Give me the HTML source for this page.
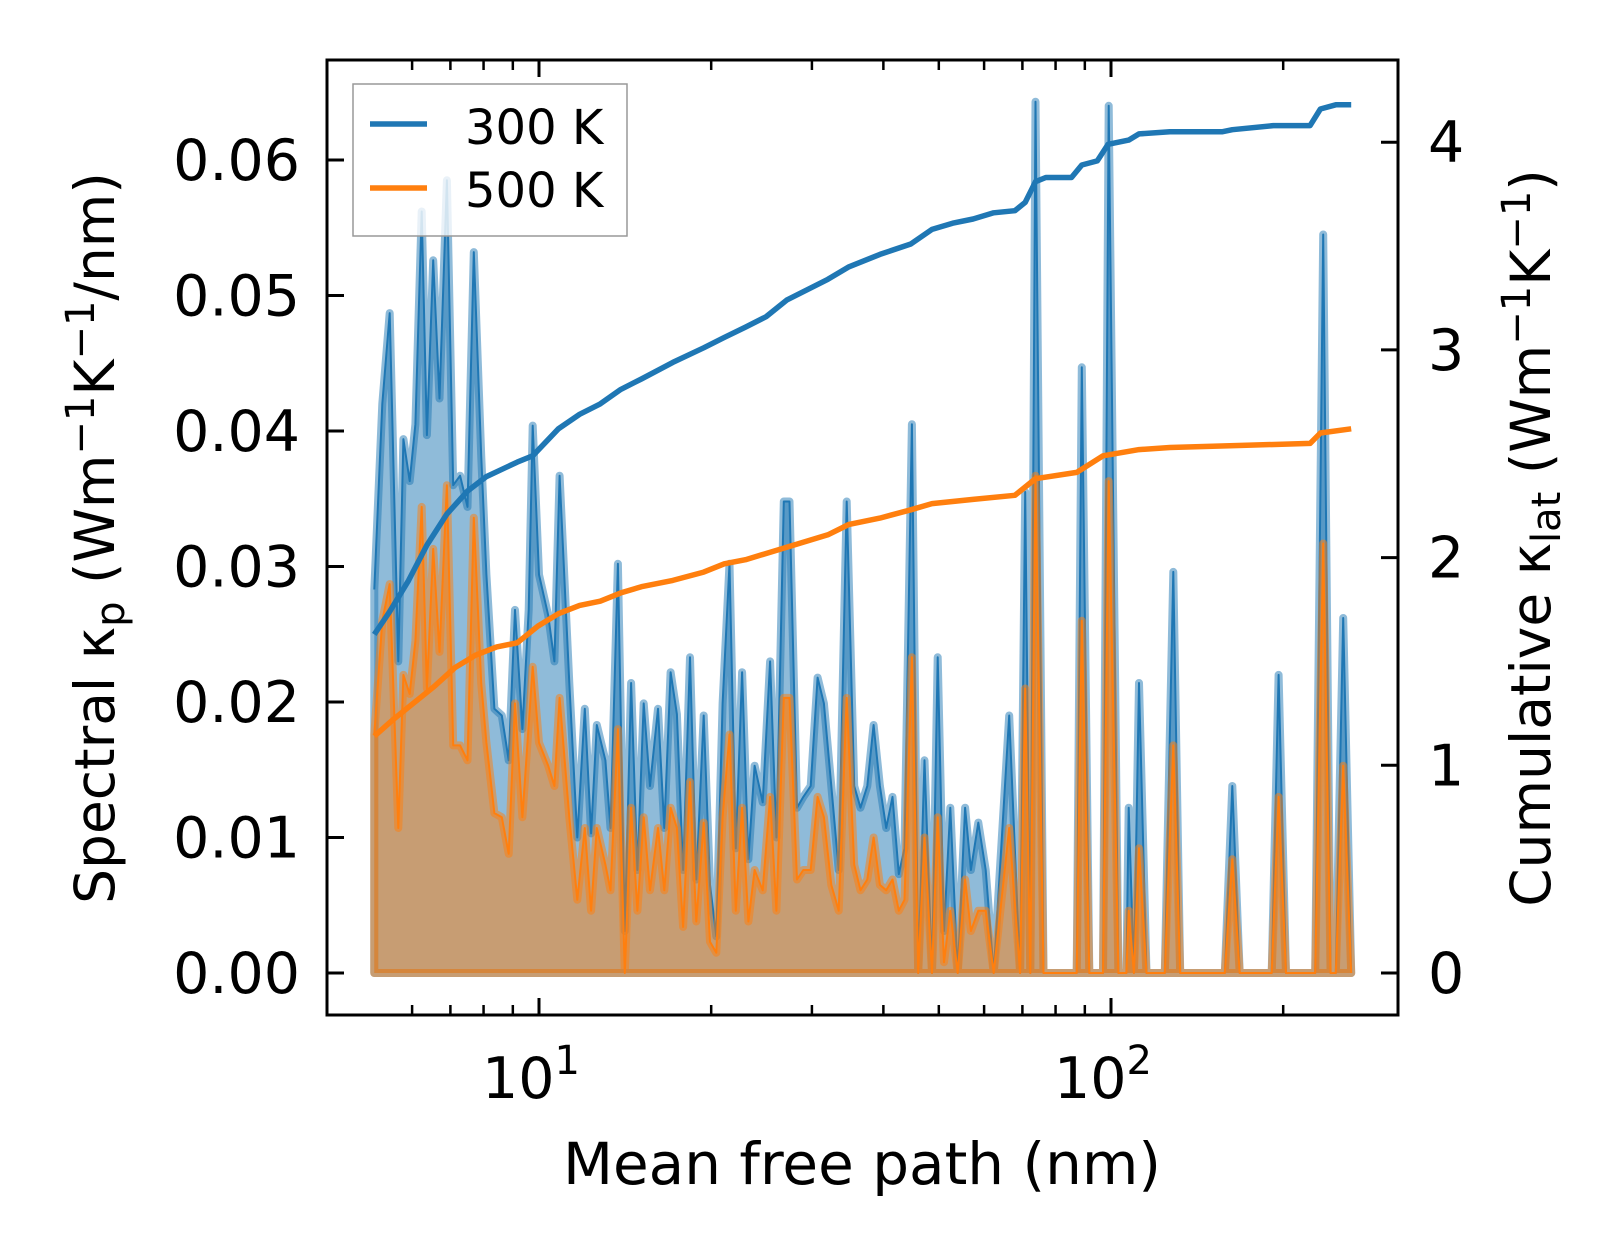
<!DOCTYPE html>
<html><head><meta charset="utf-8">
<style>
html,body{margin:0;padding:0;background:#fff;}
body{position:relative;}
svg{display:block;font-family:"DejaVu Sans","Liberation Sans",sans-serif;}
</style></head>
<body>
<svg id="chart" width="1623" height="1254" viewBox="0 0 1623 1254" xmlns="http://www.w3.org/2000/svg">
<defs><clipPath id="clip"><rect x="327" y="60" width="1071" height="955"/></clipPath></defs>
<g id="plot" clip-path="url(#clip)"></g>
<g id="axes"></g>
</svg>
<script>
// log10 of mean free path (nm) for spectral points
const logMfp = [0.712,0.726,0.739,0.754,0.763,0.774,0.784,0.795,0.804,0.815,0.826,0.839,0.850,0.862,0.875,0.886,0.899,0.908,0.922,0.935,0.947,0.958,0.971,0.982,0.989,1.000,1.016,1.027,1.036,1.053,1.067,1.080,1.091,1.101,1.116,1.125,1.138,1.150,1.161,1.172,1.183,1.194,1.208,1.219,1.230,1.241,1.252,1.264,1.275,1.288,1.299,1.310,1.321,1.333,1.344,1.355,1.366,1.377,1.391,1.404,1.415,1.428,1.438,1.451,1.462,1.475,1.487,1.498,1.511,1.524,1.538,1.551,1.562,1.574,1.585,1.596,1.607,1.618,1.629,1.639,1.652,1.663,1.674,1.687,1.697,1.708,1.719,1.732,1.745,1.755,1.768,1.781,1.795,1.822,1.841,1.850,1.859,1.868,1.882,1.940,1.949,1.962,1.986,1.996,2.013,2.027,2.031,2.040,2.049,2.062,2.094,2.109,2.121,2.199,2.212,2.225,2.281,2.293,2.306,2.357,2.371,2.384,2.393,2.406,2.420];
const k300 = [0.0283,0.042,0.0487,0.023,0.0394,0.0363,0.0405,0.0562,0.0397,0.0526,0.0424,0.0585,0.036,0.0367,0.0344,0.0532,0.0382,0.0294,0.0195,0.019,0.0157,0.0268,0.018,0.0268,0.0404,0.0294,0.0264,0.023,0.0367,0.0214,0.010,0.0195,0.0103,0.0183,0.0157,0.0107,0.0302,0.0031,0.0214,0.0076,0.0199,0.0138,0.0195,0.0107,0.0222,0.0191,0.0076,0.0233,0.0069,0.019,0.0065,0.0027,0.0199,0.0302,0.0092,0.0222,0.0084,0.0153,0.0126,0.023,0.010,0.0348,0.0348,0.0122,0.013,0.0138,0.0218,0.0199,0.0138,0.0076,0.0348,0.0138,0.0122,0.0138,0.0183,0.0138,0.0107,0.013,0.0073,0.0092,0.0405,0,0.0157,0,0.0233,0.0031,0.0122,0,0.0122,0.0076,0.0111,0.0076,0,0.019,0,0.0355,0,0.0643,0,0,0.0447,0,0,0.064,0,0,0.0122,0,0.0214,0,0,0.0296,0,0,0.0138,0,0,0.022,0,0,0.0545,0,0,0.0262,0];
const k500 = [0.0176,0.026,0.0287,0.0107,0.022,0.0206,0.0245,0.0344,0.021,0.0313,0.0237,0.036,0.0168,0.0168,0.0157,0.0336,0.0214,0.017,0.0118,0.0115,0.0088,0.0199,0.0115,0.0183,0.0226,0.017,0.0153,0.0138,0.0203,0.0115,0.0054,0.0107,0.0046,0.0107,0.008,0.0061,0.018,0.0,0.0122,0.0046,0.0115,0.0061,0.0107,0.0061,0.0122,0.0107,0.0034,0.0141,0.0038,0.0111,0.0023,0.0015,0.0115,0.0176,0.0046,0.0122,0.0038,0.0076,0.0061,0.013,0.0046,0.0203,0.0203,0.0069,0.0076,0.0076,0.013,0.0115,0.0065,0.0046,0.0203,0.008,0.0061,0.0069,0.010,0.0065,0.0061,0.0069,0.0046,0.0054,0.0233,0,0.010,0,0.0115,0.0008,0.0046,0,0.0069,0.0031,0.0046,0.0046,0,0.0107,0,0.021,0,0.0367,0,0,0.026,0,0,0.0363,0,0,0.0046,0,0.0092,0,0,0.0168,0,0,0.0084,0,0,0.013,0,0,0.0317,0,0,0.0153,0];
const cumLog300 = [0.712,0.739,0.772,0.804,0.839,0.875,0.908,0.962,0.989,1.034,1.071,1.107,1.143,1.179,1.234,1.288,1.324,1.361,1.397,1.433,1.469,1.505,1.542,1.596,1.650,1.687,1.723,1.759,1.795,1.832,1.850,1.868,1.886,1.931,1.949,1.976,1.995,2.031,2.049,2.103,2.194,2.212,2.284,2.348,2.366,2.393,2.420];
const cum300 = [1.63,1.74,1.89,2.06,2.21,2.32,2.39,2.46,2.49,2.62,2.69,2.74,2.81,2.86,2.94,3.01,3.06,3.11,3.16,3.24,3.29,3.34,3.40,3.46,3.51,3.58,3.61,3.63,3.66,3.67,3.71,3.81,3.83,3.83,3.89,3.91,3.99,4.01,4.04,4.05,4.05,4.06,4.08,4.08,4.16,4.18,4.18];
const cumLog500 = [0.712,0.745,0.781,0.817,0.853,0.889,0.926,0.962,0.998,1.034,1.071,1.107,1.143,1.179,1.234,1.288,1.324,1.361,1.433,1.505,1.542,1.596,1.650,1.687,1.759,1.832,1.868,1.940,1.986,2.049,2.103,2.230,2.348,2.366,2.420];
const cum500 = [1.14,1.22,1.30,1.38,1.47,1.53,1.57,1.59,1.67,1.73,1.77,1.79,1.83,1.86,1.89,1.93,1.97,1.99,2.05,2.11,2.16,2.19,2.23,2.26,2.28,2.30,2.38,2.41,2.49,2.52,2.53,2.54,2.55,2.60,2.62];
const leftTicks = [0,0.01,0.02,0.03,0.04,0.05,0.06];
const leftTickLabels = ["0.00","0.01","0.02","0.03","0.04","0.05","0.06"];
const rightTicks = [0,1,2,3,4];
const xMajor = [1,2];
const xMinor = [6,7,8,9,20,30,40,50,60,70,80,90,200];

const NS="http://www.w3.org/2000/svg";
const X0=327,X1=1398,Y0=60,Y1=1015;
const xs = l => 539 + (l-1)*572;
const yL = v => 973 - v*13550;
const yR = v => 973 - v*207.7;
const plot=document.getElementById('plot'), axes=document.getElementById('axes');
function mk(tag,attrs,parent){const e=document.createElementNS(NS,tag);for(const k in attrs)e.setAttribute(k,attrs[k]);parent.appendChild(e);return e;}

function spectral(vals,color,name){
  let pts=logMfp.map((l,i)=>xs(l).toFixed(1)+','+yL(vals[i]).toFixed(1));
  const area=mk('polygon',{points:xs(logMfp[0])+','+yL(0)+' '+pts.join(' ')+' '+xs(logMfp[logMfp.length-1])+','+yL(0),fill:color,'fill-opacity':0.5,stroke:color,'stroke-opacity':0.5,'stroke-width':8,'stroke-linejoin':'round'},plot);
  
  
  const ln=mk('polyline',{points:pts.join(' '),fill:'none',stroke:color,'stroke-width':2,'stroke-linejoin':'round'},plot);
  
  
}
spectral(k300,'#1f77b4','spectral-300k');
spectral(k500,'#ff7f0e','spectral-500k');
function cum(ls,vals,color,name){
  const ln=mk('polyline',{points:ls.map((l,i)=>xs(l).toFixed(1)+','+yR(vals[i]).toFixed(1)).join(' '),fill:'none',stroke:color,'stroke-width':5.5,'stroke-linejoin':'round'},plot);
  
  
}
cum(cumLog300,cum300,'#1f77b4','cumulative-300k');
cum(cumLog500,cum500,'#ff7f0e','cumulative-500k');

const fr=mk('rect',{x:X0,y:Y0,width:X1-X0,height:Y1-Y0,fill:'none',stroke:'#000','stroke-width':3},axes);


leftTicks.forEach((v,i)=>{
  const y=yL(v);
  mk('line',{x1:X0,x2:X0+17,y1:y,y2:y,stroke:'#000','stroke-width':3},axes);
  const t=mk('text',{x:300,y:y+20,'text-anchor':'end','font-size':57},axes);
  t.textContent=leftTickLabels[i];
  
  
});
rightTicks.forEach(v=>{
  const y=yR(v);
  mk('line',{x1:X1-17,x2:X1,y1:y,y2:y,stroke:'#000','stroke-width':3},axes);
  const t=mk('text',{x:1428,y:y+20,'text-anchor':'start','font-size':57},axes);
  t.textContent=String(v);
  
  
});
xMajor.forEach(e=>{
  const x=xs(e);
  mk('line',{x1:x,x2:x,y1:Y1,y2:Y1-17,stroke:'#000','stroke-width':3},axes);
  mk('line',{x1:x,x2:x,y1:Y0,y2:Y0+17,stroke:'#000','stroke-width':3},axes);
  const t=mk('text',{x:x-8,y:1098,'text-anchor':'middle','font-size':57},axes);
  t.textContent='10';
  const s=mk('tspan',{dy:-24,'font-size':40},t);
  s.textContent=String(e);
  
  
});
xMinor.forEach(m=>{
  const x=xs(Math.log10(m));
  mk('line',{x1:x,x2:x,y1:Y1,y2:Y1-10,stroke:'#000','stroke-width':2.5},axes);
  mk('line',{x1:x,x2:x,y1:Y0,y2:Y0+10,stroke:'#000','stroke-width':2.5},axes);
});
</script>
<svg style="position:absolute;left:0;top:0" width="1623" height="1254" xmlns="http://www.w3.org/2000/svg" font-family="DejaVu Sans, Liberation Sans, sans-serif">
  <g>
    <rect x="353" y="84" width="274" height="152" fill="#fff" fill-opacity="0.8" stroke="#999" stroke-width="1.5"/>
    <line x1="370" y1="124" x2="427" y2="124" stroke="#1f77b4" stroke-width="5.5"/>
    <text x="465" y="144" font-size="48">300 K</text>
    <line x1="370" y1="188" x2="427" y2="188" stroke="#ff7f0e" stroke-width="5.5"/>
    <text x="465" y="207" font-size="48">500 K</text>
  </g>
  <text x="862" y="1184" text-anchor="middle" font-size="58">Mean free path (nm)</text>
  <text transform="translate(114,538) rotate(-90)" text-anchor="middle" font-size="55">Spectral κ<tspan font-size="40" dy="10">p</tspan><tspan dy="-10"> (Wm</tspan><tspan font-size="40" dy="-20">−1</tspan><tspan dy="20">K</tspan><tspan font-size="40" dy="-20">−1</tspan><tspan dy="20">/nm)</tspan></text>
  <text transform="translate(1550,538) rotate(-90)" text-anchor="middle" font-size="55">Cumulative κ<tspan font-size="40" dy="10">lat</tspan><tspan dy="-10"> (Wm</tspan><tspan font-size="40" dy="-20">−1</tspan><tspan dy="20">K</tspan><tspan font-size="40" dy="-20">−1</tspan><tspan dy="20">)</tspan></text>
</svg>
</body></html>
